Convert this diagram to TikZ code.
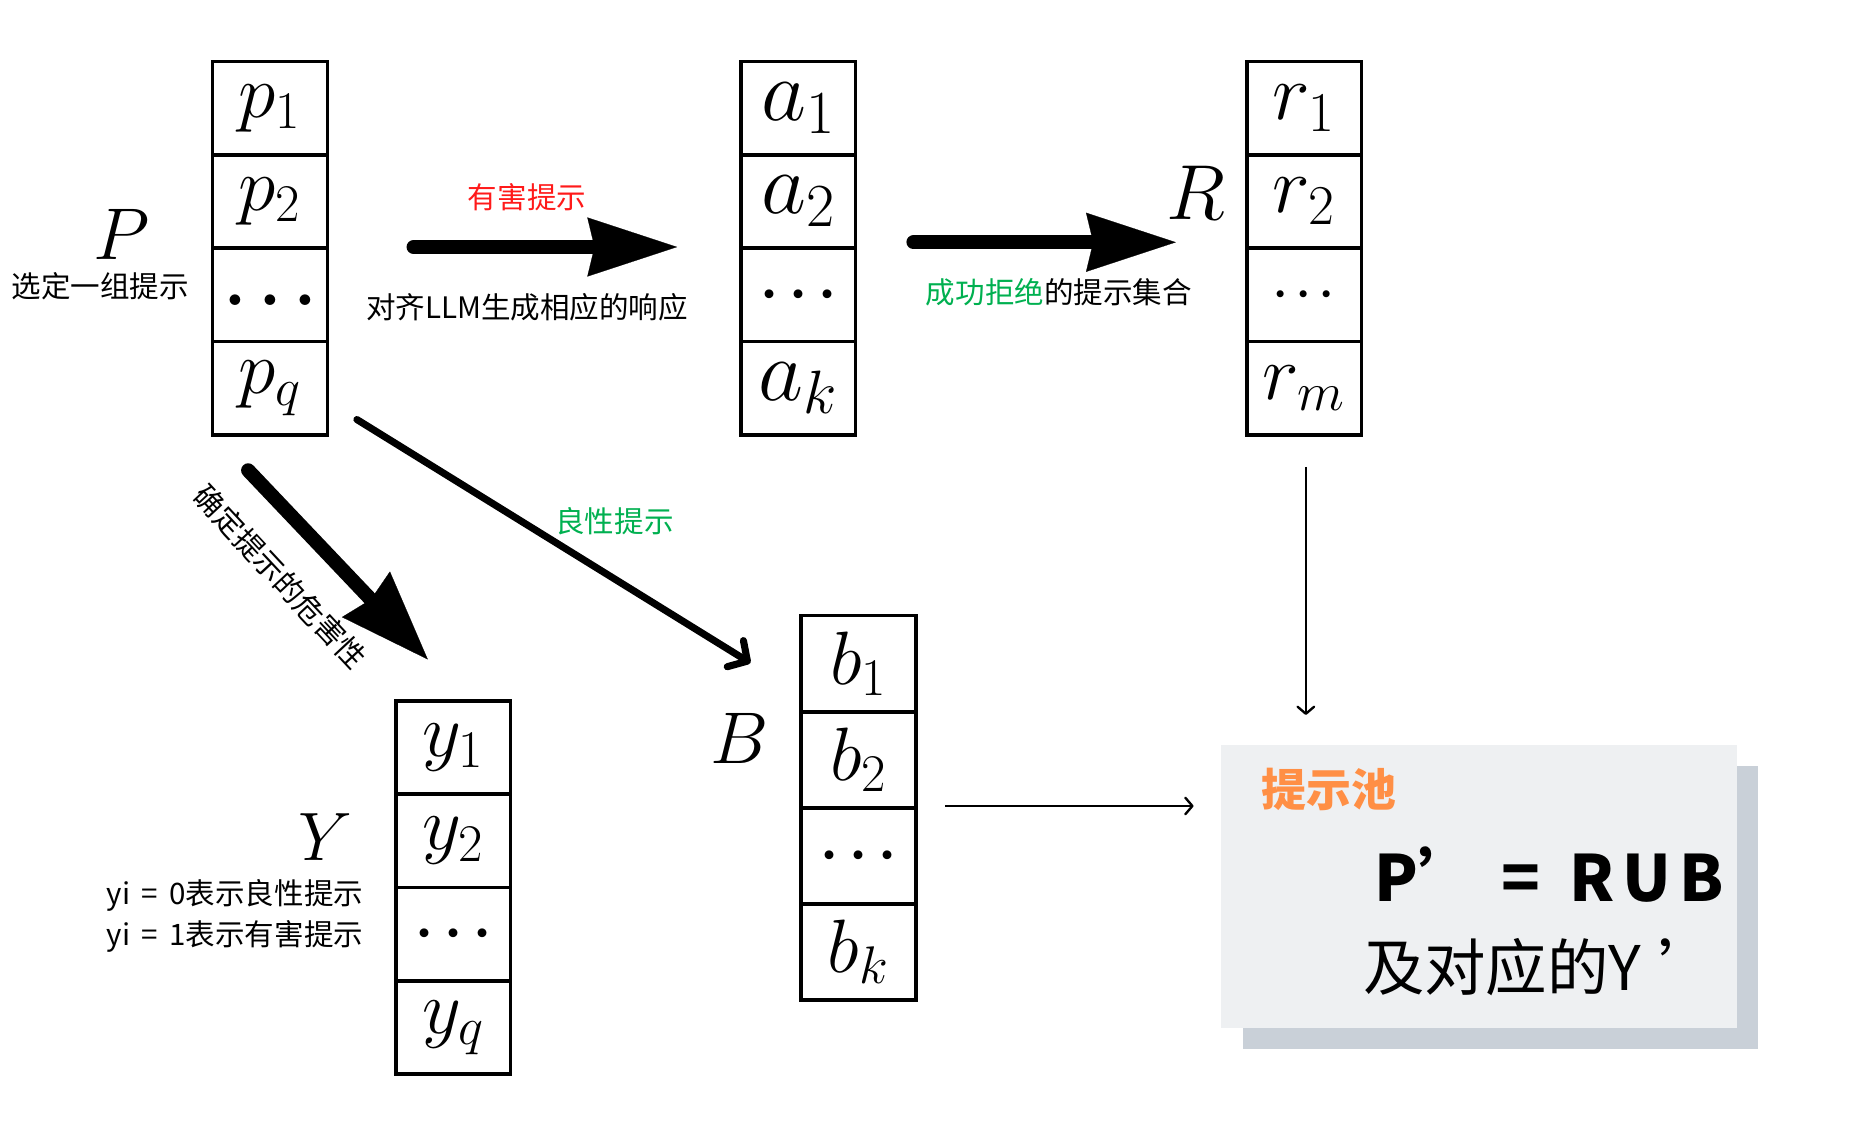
\RequirePackage{fix-cm}
\documentclass[tikz,border=0pt]{standalone}
\usepackage{fontspec}
\newfontfamily\cjk{Noto Sans CJK SC}
\usetikzlibrary{arrows.meta}
\definecolor{harm}{HTML}{FF1A1A}
\definecolor{benign}{HTML}{00B050}
\definecolor{poolorange}{HTML}{FF8F45}
\definecolor{poolbg}{HTML}{EEF0F2}
\definecolor{poolshadow}{HTML}{C9D0D8}
\newcommand{\celldots}[1]{{\fontsize{#1}{#1}\selectfont\boldmath$\cdots$}}
\begin{document}
\begin{tikzpicture}[x=0.5pt,y=-0.5pt,
  cell/.style={draw, line width=1.5pt, minimum width=48.5pt, minimum height=39.5pt, inner sep=0pt, font=\fontsize{32}{38}\selectfont},
  setlabel/.style={font=\fontsize{31}{36}\selectfont, inner sep=0pt},
  cn/.style={font=\cjk\fontsize{12.5}{15}\selectfont, inner sep=0pt},
  bigarrow/.style={line width=6pt, line cap=round, -{Stealth[length=38pt,width=25pt,inset=3pt,line width=0.1pt]}},
  midarrow/.style={line width=3pt, line cap=round, -{Straight Barb[length=6pt,width=13pt,line width=3pt,round]}},
  thinarrow/.style={line width=1pt, -{Straight Barb[length=3pt,width=7pt,line width=1pt,round]}}
]
\useasboundingbox (0,0) rectangle (1568,949);

% P array
\node[cell] (p1) at (228.5,91.5) {$p_1$};
\node[cell] (p2) at (228.5,170.5) {$p_2$};
\node[cell] (p3) at (228.5,249.5) {\raisebox{-9pt}{\fontsize{29}{29}\selectfont\boldmath$\ldots$}};
\node[cell] (p4) at (228.5,328.5) {$p_q$};
\node[setlabel] (Plab) at (103,198) {$P$};
\node[cn] (Pdesc) at (85,242) {选定一组提示};

% a array
\node[cell, font=\fontsize{37}{42}\selectfont] (a1) at (675.5,91.5) {$a_1$};
\node[cell, font=\fontsize{37}{42}\selectfont] (a2) at (675.5,170.5) {$a_2$};
\node[cell] (a3) at (675.5,249.5) {\celldots{24}};
\node[cell, font=\fontsize{37}{42}\selectfont] (a4) at (675.5,328.5) {$a_k$};

% r array
\node[cell, font=\fontsize{34}{40}\selectfont] (r1) at (1103.5,91.5) {$r_1$};
\node[cell, font=\fontsize{34}{40}\selectfont] (r2) at (1103.5,170.5) {$r_2$};
\node[cell] (r3) at (1103.5,249.5) {\celldots{19}};
\node[cell, font=\fontsize{33}{40}\selectfont] (r4) at (1103.5,328.5) {$r_m$};
\node[setlabel, font=\fontsize{33}{38}\selectfont] (Rlab) at (1012,163) {$R$};

% Y array
\node[cell] (y1) at (383.5,632.5) {$y_1$};
\node[cell] (y2) at (383.5,711.5) {$y_2$};
\node[cell] (y3) at (383.5,790.5) {\raisebox{-2pt}{\celldots{24}}};
\node[cell] (y4) at (383.5,869.5) {$y_q$};
\node[setlabel, font=\fontsize{29}{34}\selectfont] (Ylab) at (275,708) {$Y$};
\node[cn, anchor=west] (yi0) at (90,758) {yi\hspace{2pt} = \hspace{2pt}0表示良性提示};
\node[cn, anchor=west] (yi1) at (90,792) {yi\hspace{2pt} = \hspace{2pt}1表示有害提示};

% B array
\node[cell, minimum height=40.6pt] (b1) at (726.5,561.6) {$b_1$};
\node[cell, minimum height=40.6pt] (b2) at (726.5,642.9) {$b_2$};
\node[cell, minimum height=40.6pt] (b3) at (726.5,724.1) {\celldots{24}};
\node[cell, minimum height=40.6pt] (b4) at (726.5,805.4) {$b_k$};
\node[setlabel, font=\fontsize{31}{36}\selectfont] (Blab) at (626,625) {$B$};

% arrow P -> a
\coordinate (h1s) at (350,209);
\coordinate (h1e) at (573,209);
\draw[bigarrow] (h1s) -- (h1e);
\node[cn, text=harm] (harmlab) at (446,167) {有害提示};
\node[cn] (alignlab) at (446,260) {对齐LLM生成相应的响应};

% arrow a -> R
\coordinate (h2s) at (773,205);
\coordinate (h2e) at (995,205);
\draw[bigarrow] (h2s) -- (h2e);
\node[cn] (refuselab) at (896,247) {{\color{benign}成功拒绝}的提示集合};

% arrow P -> Y
\coordinate (h3s) at (210,398);
\coordinate (h3e) at (362,558);
\draw[bigarrow, -{Stealth[length=38pt,width=28pt,inset=3pt,line width=0.1pt]}] (h3s) -- (h3e);
\node[cn, rotate=-47] (detlab) at (237,488) {确定提示的危害性};

% arrow P -> B
\coordinate (h4s) at (302,355);
\coordinate (h4e) at (635,561);
\draw[midarrow] (h4s) -- (h4e);
\node[cn, text=benign] (benlab) at (520,441) {良性提示};

% thin arrows into pool
\coordinate (h5s) at (1105,395);
\coordinate (h5e) at (1105,605);
\draw[thinarrow] (h5s) -- (h5e);
\coordinate (h6s) at (800,682);
\coordinate (h6e) at (1010,682);
\draw[thinarrow] (h6s) -- (h6e);

% pool
\fill[poolshadow] (1052,648) rectangle (1488,888);
\node[fill=poolbg, minimum width=218.5pt, minimum height=120pt, inner sep=0pt] (pool) at (1251.5,750) {};
\node[font=\cjk\bfseries\fontsize{19}{22}\selectfont, text=poolorange, anchor=west, inner sep=0pt] (pooltitle) at (1067,668) {提示池};
\node[font=\cjk\bfseries\fontsize{27}{32}\selectfont, anchor=west, inner sep=0pt] (eq1) at (1163,740) {P’\hspace{8pt}=\hspace{0.45em}R\hspace{3.5pt}U\hspace{3.5pt}B};
\node[font=\cjk\fontsize{26}{30}\selectfont, anchor=west, inner sep=0pt] (eq2) at (1153,818) {及对应的Y\hspace{7pt}’};
\end{tikzpicture}
\end{document}
